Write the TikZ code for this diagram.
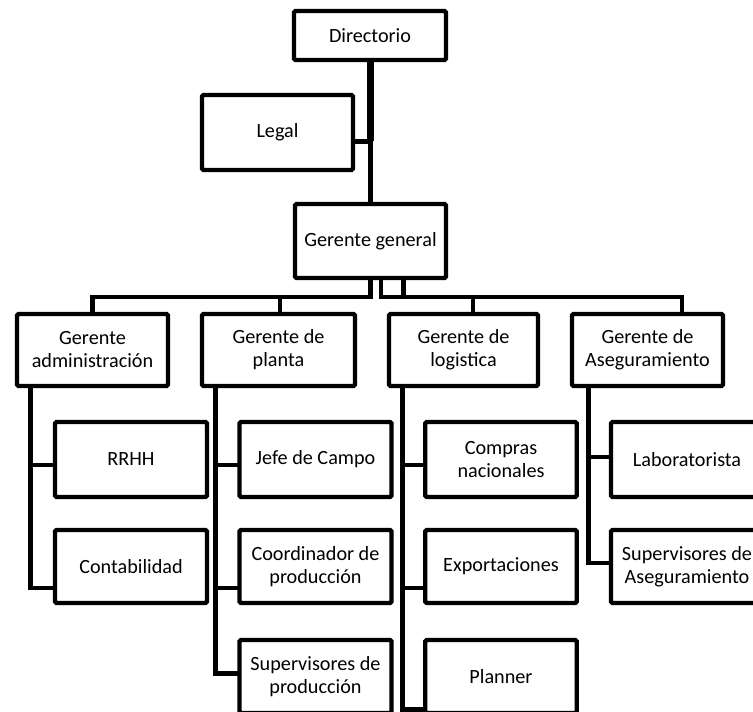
\documentclass[tikz,border=0pt]{standalone}
\usepackage{fontspec}
\setmainfont{Carlito}
\begin{document}
\begin{tikzpicture}[x=1pt,y=-1pt,
  box/.style={draw, line width=4.3pt, rounded corners=1.5pt, inner sep=0pt,
    outer sep=0pt, align=center, font=\fontsize{20.2}{23}\selectfont},
  link/.style={line width=4.3pt, line join=miter}
]
\useasboundingbox (0,0) rectangle (753,712);
\fill[white] (0,0) rectangle (753,712);
\clip (0,0) rectangle (753,712);

% top of the chart
\node[box, minimum width=152pt, minimum height=49pt] (dir) at (370,35.5) {Directorio};
\node[box, minimum width=151pt, minimum height=75pt] (legal) at (277.5,132.5) {Legal};
\node[box, minimum width=151pt, minimum height=74pt] (gg) at (370.5,241) {Gerente general};

% managers
\node[box, minimum width=151pt, minimum height=72pt] (gadm) at (92.5,350) {Gerente\\administración};
\node[box, minimum width=153pt, minimum height=72pt] (gpla) at (278.5,350) {Gerente de\\planta};
\node[box, minimum width=149pt, minimum height=72pt] (glog) at (463.5,350) {Gerente de\\logistica};
\node[box, minimum width=151pt, minimum height=72pt] (gase) at (647.5,350) {Gerente de\\Aseguramiento};

% staff, row by row
\node[box, minimum width=152pt, minimum height=75pt] (rrhh) at (131,459.5) {RRHH};
\node[box, minimum width=152pt, minimum height=75pt] (jefe) at (315.5,459.5) {Jefe de Campo};
\node[box, minimum width=151.5pt, minimum height=75pt] (comp) at (501,459.5) {Compras\\nacionales};
\node[box, minimum width=152pt, minimum height=75pt] (lab) at (687,459.5) {Laboratorista};

\node[box, minimum width=152pt, minimum height=73pt] (cont) at (131,566.5) {Contabilidad};
\node[box, minimum width=152pt, minimum height=73pt] (coord) at (315.5,566.5) {Coordinador de\\producción};
\node[box, minimum width=151.5pt, minimum height=73pt] (expo) at (501,566.5) {Exportaciones};
\node[box, minimum width=152pt, minimum height=73pt] (supa) at (687,566.5) {Supervisores de\\Aseguramiento};

\node[box, minimum width=152pt, minimum height=73pt] (supp) at (315.5,676.5) {Supervisores de\\producción};
\node[box, minimum width=151.5pt, minimum height=73pt] (plan) at (501,676.5) {Planner};

% spine from the board down to the general manager
\coordinate (spine) at (370.5,141);
\draw[link] (dir.south -| spine) -- (gg.north -| spine);
\draw[link, line width=7.5pt] (dir.south -| spine) -- (spine);
\draw[link, line width=5pt] (spine) -- (spine -| legal.east);

% bus under the general manager
\coordinate (bL) at (370.5,297);
\coordinate (bM) at (381,297);
\coordinate (bR) at (403.5,297);
\coordinate (dAdm) at (92.5,297);
\coordinate (dPla) at (280,297);
\coordinate (dLog) at (473,297);
\coordinate (dAse) at (682,297);
\draw[link] (gg.south -| bL) |- (dAdm) -- (dAdm |- gadm.north);
\draw[link] (gg.south -| bL) |- (dPla) -- (dPla |- gpla.north);
\draw[link] (gg.south -| bM) |- (dLog) -- (dLog |- glog.north);
\draw[link] (gg.south -| bR) |- (dAse) -- (dAse |- gase.north);

% administration
\coordinate (a1) at (30.5,465);
\coordinate (a2) at (30.5,588);
\draw[link] (gadm.south -| a1) -- (a2) -- (a2 -| cont.west);
\draw[link] (a1) -- (a1 -| rrhh.west);

% plant
\coordinate (p1) at (215.5,465);
\coordinate (p2) at (215.5,588);
\coordinate (p3) at (215.5,673.5);
\draw[link] (gpla.south -| p1) -- (p3) -- (p3 -| supp.west);
\draw[link] (p1) -- (p1 -| jefe.west);
\draw[link] (p2) -- (p2 -| coord.west);

% logistics
\coordinate (l1) at (402.5,465);
\coordinate (l2) at (402.5,588);
\coordinate (l3) at (402.5,709.5);
\coordinate (l4) at (402.5,720);
\draw[link] (glog.south -| l1) -- (l4);
\draw[link] (l1) -- (l1 -| comp.west);
\draw[link] (l2) -- (l2 -| expo.west);
\draw[link] (l3) -- (l3 -| plan.west);

% quality assurance
\coordinate (q1) at (588.5,457);
\coordinate (q2) at (588.5,563);
\draw[link] (gase.south -| q1) -- (q2) -- (q2 -| supa.west);
\draw[link] (q1) -- (q1 -| lab.west);
\end{tikzpicture}
\end{document}
